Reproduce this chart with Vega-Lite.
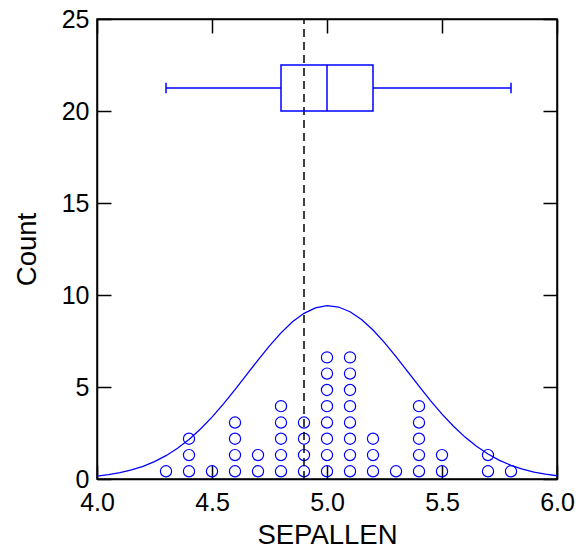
{
  "$schema": "https://vega.github.io/schema/vega-lite/v6.json",
  "width": 460,
  "height": 460,
  "autosize": {"type": "none"},
  "padding": {"left": 97, "top": 19, "right": 22, "bottom": 73},
  "background": "white",
  "config": {
    "view": {"stroke": "black", "strokeWidth": 1.5},
    "font": "Liberation Sans",
    "axis": {
      "grid": false,
      "domainColor": "black",
      "domainWidth": 1.5,
      "tickColor": "black",
      "tickWidth": 1.5,
      "tickSize": -14,
      "labelFont": "Liberation Sans",
      "labelFontSize": 25,
      "labelColor": "black",
      "titleFont": "Liberation Sans",
      "titleFontSize": 27.5,
      "titleFontWeight": "normal",
      "titleColor": "black",
      "labelFlush": false,
      "labelOverlap": false
    }
  },
  "datasets": {
    "dots": [
      {"SEPALLEN": 4.3, "Count": 0.42},
      {"SEPALLEN": 4.4, "Count": 0.42}, {"SEPALLEN": 4.4, "Count": 1.30}, {"SEPALLEN": 4.4, "Count": 2.19},
      {"SEPALLEN": 4.5, "Count": 0.42},
      {"SEPALLEN": 4.6, "Count": 0.42}, {"SEPALLEN": 4.6, "Count": 1.30}, {"SEPALLEN": 4.6, "Count": 2.19}, {"SEPALLEN": 4.6, "Count": 3.07},
      {"SEPALLEN": 4.7, "Count": 0.42}, {"SEPALLEN": 4.7, "Count": 1.30},
      {"SEPALLEN": 4.8, "Count": 0.42}, {"SEPALLEN": 4.8, "Count": 1.30}, {"SEPALLEN": 4.8, "Count": 2.19}, {"SEPALLEN": 4.8, "Count": 3.07}, {"SEPALLEN": 4.8, "Count": 3.96},
      {"SEPALLEN": 4.9, "Count": 0.42}, {"SEPALLEN": 4.9, "Count": 1.30}, {"SEPALLEN": 4.9, "Count": 2.19}, {"SEPALLEN": 4.9, "Count": 3.07},
      {"SEPALLEN": 5.0, "Count": 0.42}, {"SEPALLEN": 5.0, "Count": 1.30}, {"SEPALLEN": 5.0, "Count": 2.19}, {"SEPALLEN": 5.0, "Count": 3.07}, {"SEPALLEN": 5.0, "Count": 3.96}, {"SEPALLEN": 5.0, "Count": 4.84}, {"SEPALLEN": 5.0, "Count": 5.73}, {"SEPALLEN": 5.0, "Count": 6.61},
      {"SEPALLEN": 5.1, "Count": 0.42}, {"SEPALLEN": 5.1, "Count": 1.30}, {"SEPALLEN": 5.1, "Count": 2.19}, {"SEPALLEN": 5.1, "Count": 3.07}, {"SEPALLEN": 5.1, "Count": 3.96}, {"SEPALLEN": 5.1, "Count": 4.84}, {"SEPALLEN": 5.1, "Count": 5.73}, {"SEPALLEN": 5.1, "Count": 6.61},
      {"SEPALLEN": 5.2, "Count": 0.42}, {"SEPALLEN": 5.2, "Count": 1.30}, {"SEPALLEN": 5.2, "Count": 2.19},
      {"SEPALLEN": 5.3, "Count": 0.42},
      {"SEPALLEN": 5.4, "Count": 0.42}, {"SEPALLEN": 5.4, "Count": 1.30}, {"SEPALLEN": 5.4, "Count": 2.19}, {"SEPALLEN": 5.4, "Count": 3.07}, {"SEPALLEN": 5.4, "Count": 3.96},
      {"SEPALLEN": 5.5, "Count": 0.42}, {"SEPALLEN": 5.5, "Count": 1.30},
      {"SEPALLEN": 5.7, "Count": 0.42}, {"SEPALLEN": 5.7, "Count": 1.30},
      {"SEPALLEN": 5.8, "Count": 0.42}
    ],
    "curve": [
      {"SEPALLEN": 4.00, "Count": 0.160}, {"SEPALLEN": 4.05, "Count": 0.238}, {"SEPALLEN": 4.10, "Count": 0.346},
      {"SEPALLEN": 4.15, "Count": 0.493}, {"SEPALLEN": 4.20, "Count": 0.690}, {"SEPALLEN": 4.25, "Count": 0.945},
      {"SEPALLEN": 4.30, "Count": 1.267}, {"SEPALLEN": 4.35, "Count": 1.667}, {"SEPALLEN": 4.40, "Count": 2.150},
      {"SEPALLEN": 4.45, "Count": 2.715}, {"SEPALLEN": 4.50, "Count": 3.362}, {"SEPALLEN": 4.55, "Count": 4.079},
      {"SEPALLEN": 4.60, "Count": 4.853}, {"SEPALLEN": 4.65, "Count": 5.657}, {"SEPALLEN": 4.70, "Count": 6.463},
      {"SEPALLEN": 4.75, "Count": 7.237}, {"SEPALLEN": 4.80, "Count": 7.941}, {"SEPALLEN": 4.85, "Count": 8.541},
      {"SEPALLEN": 4.90, "Count": 9.003}, {"SEPALLEN": 4.95, "Count": 9.302}, {"SEPALLEN": 5.00, "Count": 9.419},
      {"SEPALLEN": 5.05, "Count": 9.347}, {"SEPALLEN": 5.10, "Count": 9.091}, {"SEPALLEN": 5.15, "Count": 8.666},
      {"SEPALLEN": 5.20, "Count": 8.096}, {"SEPALLEN": 5.25, "Count": 7.413}, {"SEPALLEN": 5.30, "Count": 6.653},
      {"SEPALLEN": 5.35, "Count": 5.851}, {"SEPALLEN": 5.40, "Count": 5.044}, {"SEPALLEN": 5.45, "Count": 4.261},
      {"SEPALLEN": 5.50, "Count": 3.528}, {"SEPALLEN": 5.55, "Count": 2.864}, {"SEPALLEN": 5.60, "Count": 2.277},
      {"SEPALLEN": 5.65, "Count": 1.775}, {"SEPALLEN": 5.70, "Count": 1.356}, {"SEPALLEN": 5.75, "Count": 1.015},
      {"SEPALLEN": 5.80, "Count": 0.745}, {"SEPALLEN": 5.85, "Count": 0.536}, {"SEPALLEN": 5.90, "Count": 0.378},
      {"SEPALLEN": 5.95, "Count": 0.261}, {"SEPALLEN": 6.00, "Count": 0.177}
    ],
    "box": [
      {"min": 4.3, "q1": 4.8, "median": 5.0, "q3": 5.2, "max": 5.8, "ref": 4.9}
    ]
  },
  "layer": [
    {
      "data": {"name": "curve"},
      "mark": {"type": "line", "color": "#0000ff", "strokeWidth": 1.3, "clip": true},
      "encoding": {
        "x": {"field": "SEPALLEN", "type": "quantitative",
              "scale": {"domain": [4, 6], "nice": false, "zero": false},
              "axis": {"orient": "bottom", "title": "SEPALLEN", "values": [4, 4.5, 5, 5.5, 6], "format": ".1f", "labelPadding": 25, "titlePadding": 6}},
        "y": {"field": "Count", "type": "quantitative",
              "scale": {"domain": [0, 25], "nice": false},
              "axis": {"orient": "left", "title": "Count", "values": [0, 5, 10, 15, 20, 25], "labelPadding": 22, "titlePadding": 20}}
      }
    },
    {
      "data": {"name": "dots"},
      "mark": {"type": "point", "shape": "circle", "filled": false, "color": "#0000ff", "size": 125, "strokeWidth": 1.2, "opacity": 1},
      "encoding": {
        "x": {"field": "SEPALLEN", "type": "quantitative",
              "axis": {"orient": "top", "title": null, "labels": false, "values": [4, 4.5, 5, 5.5, 6]}},
        "y": {"field": "Count", "type": "quantitative",
              "axis": {"orient": "right", "title": null, "labels": false, "values": [0, 5, 10, 15, 20, 25]}}
      }
    },
    {
      "data": {"name": "box"},
      "mark": {"type": "rule", "color": "black", "strokeWidth": 1.5, "strokeDash": [8, 5]},
      "encoding": {
        "x": {"field": "ref", "type": "quantitative", "axis": null},
        "y": {"datum": 0, "axis": null},
        "y2": {"datum": 25}
      }
    },
    {
      "data": {"name": "box"},
      "mark": {"type": "rect", "fill": null, "fillOpacity": 0, "stroke": "#0000ff", "strokeWidth": 1.5},
      "encoding": {
        "x": {"field": "q1", "type": "quantitative", "axis": null},
        "x2": {"field": "q3"},
        "y": {"datum": 20, "axis": null},
        "y2": {"datum": 22.5}
      }
    },
    {
      "data": {"name": "box"},
      "mark": {"type": "rule", "color": "#0000ff", "strokeWidth": 1.5},
      "encoding": {
        "x": {"field": "median", "type": "quantitative", "axis": null},
        "y": {"datum": 20, "axis": null},
        "y2": {"datum": 22.5}
      }
    },
    {
      "data": {"name": "box"},
      "mark": {"type": "rule", "color": "#0000ff", "strokeWidth": 1.5},
      "encoding": {
        "x": {"field": "min", "type": "quantitative", "axis": null},
        "x2": {"field": "q1"},
        "y": {"datum": 21.25, "axis": null}
      }
    },
    {
      "data": {"name": "box"},
      "mark": {"type": "rule", "color": "#0000ff", "strokeWidth": 1.5},
      "encoding": {
        "x": {"field": "q3", "type": "quantitative", "axis": null},
        "x2": {"field": "max"},
        "y": {"datum": 21.25, "axis": null}
      }
    },
    {
      "data": {"name": "box"},
      "mark": {"type": "rule", "color": "#0000ff", "strokeWidth": 1.5},
      "encoding": {
        "x": {"field": "min", "type": "quantitative", "axis": null},
        "y": {"datum": 20.97, "axis": null},
        "y2": {"datum": 21.53}
      }
    },
    {
      "data": {"name": "box"},
      "mark": {"type": "rule", "color": "#0000ff", "strokeWidth": 1.5},
      "encoding": {
        "x": {"field": "max", "type": "quantitative", "axis": null},
        "y": {"datum": 20.97, "axis": null},
        "y2": {"datum": 21.53}
      }
    }
  ]
}
